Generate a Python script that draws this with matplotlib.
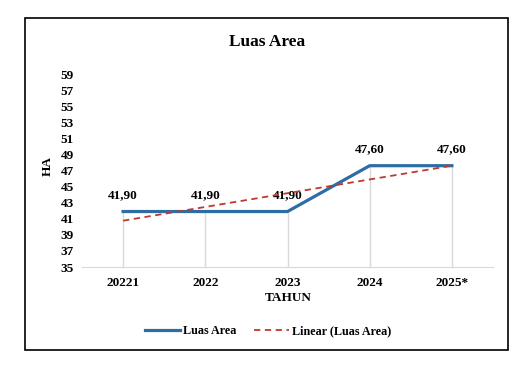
import matplotlib
matplotlib.use("Agg")
import matplotlib.pyplot as plt
import numpy as np
from matplotlib.patches import Rectangle

categories = ["20221", "2022", "2023", "2024", "2025*"]
luas_area = [41.90, 41.90, 41.90, 47.60, 47.60]
yticks = list(range(35, 60, 2))

plt.rcParams['font.family'] = ['Liberation Serif', 'DejaVu Serif']
plt.rcParams['font.weight'] = 'bold'

fig = plt.figure(figsize=(5.32, 3.74), dpi=100)
fig.patches.append(Rectangle((25/532, 1-350/374), (508-25)/532, (350-18)/374,
                             transform=fig.transFigure, fill=False,
                             edgecolor='black', linewidth=1.2))

ax = fig.add_axes([82/532, 1-267/374, (493-82)/532, (267-66)/374])
x = np.arange(len(categories))
y = np.array(luas_area)

# drop lines
ax.vlines(x, 35, y, colors='#d9d9d9', linewidth=1.0, zorder=1)

ax.plot(x, y, color='#2E6DA4', linewidth=2.3, label='Luas Area', zorder=3)
coef = np.polyfit(x, y, 1)
ax.plot(x, np.polyval(coef, x), color='#C0392B', linestyle=(0, (3.5, 2.5)),
        linewidth=1.3, label='Linear (Luas Area)', zorder=4)

for xi, yi in zip(x, y):
    ax.annotate(f"{yi:.2f}".replace('.', ','), (xi, yi), xytext=(0, 7.5),
                textcoords='offset points', ha='center', va='bottom',
                fontsize=9.5, fontweight='bold')

ax.set_xlim(-0.5, len(categories) - 0.5)
ax.set_ylim(35, 60)
ax.set_yticks(yticks)
ax.set_xticks(x)
ax.set_xticklabels(categories)
ax.tick_params(axis='both', length=0, labelsize=9.5)
ax.tick_params(axis='x', pad=7)
ax.tick_params(axis='y', pad=6)
for s in ['top', 'right', 'left']:
    ax.spines[s].set_visible(False)
ax.spines['bottom'].set_color('#d9d9d9')

fig.text(267/532, 1-42/374, "Luas Area", ha='center', va='center',
         fontsize=12.5, fontweight='bold')
fig.text(48/532, 1-166/374, "HA", ha='center', va='center', rotation=90,
         fontsize=9.5, fontweight='bold')
fig.text(288/532, 1-298/374, "TAHUN", ha='center', va='center',
         fontsize=9.5, fontweight='bold')

fig.legend(loc='center', bbox_to_anchor=(268/532, 1-331/374), ncol=2,
           frameon=False, fontsize=8.7, handlelength=2.9, columnspacing=1.4,
           handletextpad=0.3)

fig.savefig("out.png", dpi=100)
